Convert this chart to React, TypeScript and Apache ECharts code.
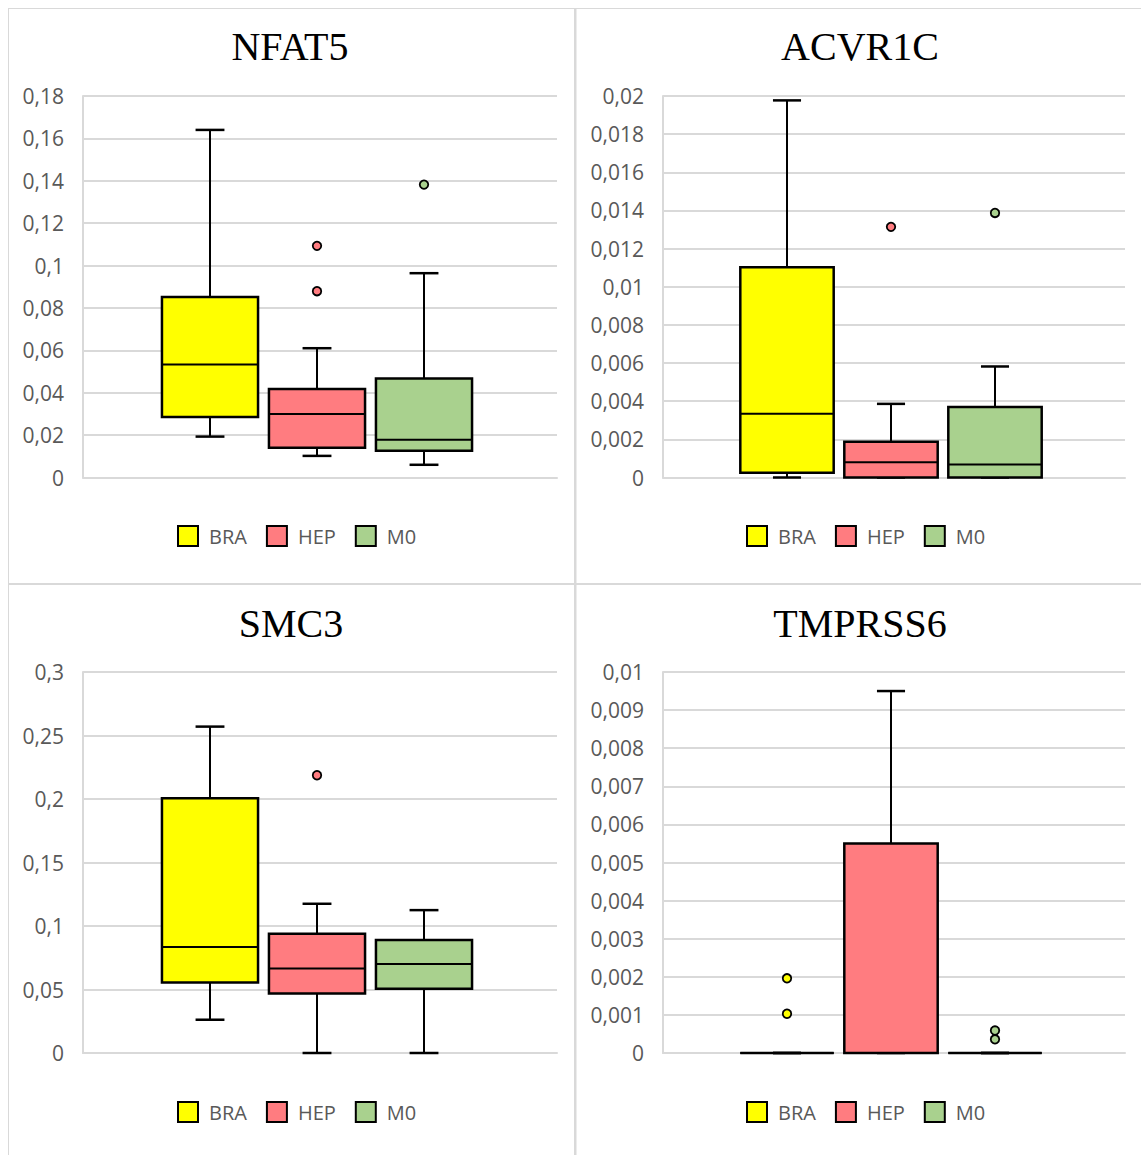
import React, { useEffect, useRef } from 'react';
import * as echarts from 'echarts';

// ---- data ----
const groups = ['BRA', 'HEP', 'M0'];
const groupColors = ['#FFFF00', '#FF7C80', '#A9D18E'];

const titles = ['NFAT5', 'ACVR1C', 'SMC3', 'TMPRSS6'];
const yMaxes = [0.18, 0.02, 0.3, 0.01];
const ySteps = [0.02, 0.002, 0.05, 0.001];

// [min, q1, median, q3, max] for BRA, HEP, M0
const nfat5Box = [
  [0.0193, 0.0285, 0.0533, 0.0852, 0.164],
  [0.0102, 0.014, 0.03, 0.0417, 0.061],
  [0.006, 0.0126, 0.0178, 0.0467, 0.0964],
];
const nfat5Outliers = [[], [0.1093, 0.0879], [0.1382]];

const acvr1cBox = [
  [0, 0.00025, 0.00334, 0.01102, 0.01977],
  [0, 0, 0.0008, 0.00187, 0.00386],
  [0, 0, 0.00068, 0.00369, 0.00582],
];
const acvr1cOutliers = [[], [0.01314], [0.01387]];

const smc3Box = [
  [0.0262, 0.0556, 0.0834, 0.2006, 0.257],
  [0, 0.0469, 0.0666, 0.0939, 0.1175],
  [0, 0.0506, 0.07, 0.0889, 0.1125],
];
const smc3Outliers = [[], [0.2187], []];

const tmprss6Box = [
  [0, 0, 0, 0, 0],
  [0, 0, 0, 0.0055, 0.0095],
  [0, 0, 0, 0, 0],
];
const tmprss6Outliers = [[0.00196, 0.00103], [], [0.00059, 0.00036]];

const boxData = [nfat5Box, acvr1cBox, smc3Box, tmprss6Box];
const outlierData = [nfat5Outliers, acvr1cOutliers, smc3Outliers, tmprss6Outliers];

// ---- layout ----
const panels = [
  { left: 83, top: 96, width: 474, height: 381.5, center: 317, band: 107, titleX: 290, titleY: 46, legendLeft: 177, legendTop: 525 },
  { left: 663, top: 96, width: 462, height: 381.5, center: 891, band: 104, titleX: 860, titleY: 46, legendLeft: 746, legendTop: 525 },
  { left: 83, top: 672, width: 474, height: 381, center: 317, band: 107, titleX: 291, titleY: 623, legendLeft: 177, legendTop: 1101 },
  { left: 663, top: 672, width: 462, height: 381, center: 891, band: 104, titleX: 860, titleY: 623, legendLeft: 746, legendTop: 1101 },
];

const GRID_COLOR = '#d9d9d9';
const TEXT_COLOR = '#595959';
const SANS = "'Open Sans', 'Liberation Sans', sans-serif";

const fmt = (v: number) => String(+Number(v).toFixed(6)).replace('.', ',');

const renderBox = (params: any, api: any) => {
  const xi = api.value(0);
  const vals = [1, 2, 3, 4, 5].map((i) => api.value(i));
  const pts = vals.map((v) => api.coord([xi, v]));
  const band = api.size([1, 0])[0];
  const half = band * 0.449;
  const cap = band * 0.135;
  const cx = pts[0][0];
  const color = api.visual('color');
  const ls = { stroke: '#000', lineWidth: 2 };
  return {
    type: 'group',
    children: [
      { type: 'line', shape: { x1: cx, y1: pts[4][1], x2: cx, y2: pts[3][1] }, style: ls },
      { type: 'line', shape: { x1: cx, y1: pts[1][1], x2: cx, y2: pts[0][1] }, style: ls },
      { type: 'line', shape: { x1: cx - cap, y1: pts[4][1], x2: cx + cap, y2: pts[4][1] }, style: { stroke: '#000', lineWidth: 2.5 } },
      { type: 'line', shape: { x1: cx - cap, y1: pts[0][1], x2: cx + cap, y2: pts[0][1] }, style: { stroke: '#000', lineWidth: 2.5 } },
      {
        type: 'rect',
        shape: { x: cx - half, y: pts[3][1], width: 2 * half, height: pts[1][1] - pts[3][1] },
        style: { fill: color, stroke: '#000', lineWidth: 2.5 },
      },
      { type: 'line', shape: { x1: cx - half, y1: pts[2][1], x2: cx + half, y2: pts[2][1] }, style: ls },
    ],
  };
};

function buildOption() {
  const grid: any[] = [];
  const xAxis: any[] = [];
  const yAxis: any[] = [];
  const series: any[] = [];
  const title: any[] = [];
  const legend: any[] = [];

  panels.forEach((p, pi) => {
    const mainIdx = pi * 2;
    const boxIdx = pi * 2 + 1;
    grid.push({ left: p.left, top: p.top, width: p.width, height: p.height });
    grid.push({ left: p.center - 1.5 * p.band, top: p.top, width: 3 * p.band, height: p.height });

    xAxis.push({
      gridIndex: mainIdx,
      type: 'category',
      data: [''],
      axisLine: { show: true, lineStyle: { color: GRID_COLOR, width: 2 } },
      axisTick: { show: false },
      axisLabel: { show: false },
    });
    xAxis.push({ gridIndex: boxIdx, type: 'category', data: groups, show: false });

    yAxis.push({
      gridIndex: mainIdx,
      type: 'value',
      min: 0,
      max: yMaxes[pi],
      interval: ySteps[pi],
      axisLine: { show: true, lineStyle: { color: GRID_COLOR, width: 2 } },
      axisTick: { show: false },
      splitLine: { show: true, lineStyle: { color: GRID_COLOR, width: 2 } },
      axisLabel: { formatter: fmt, color: TEXT_COLOR, fontSize: 21, fontFamily: SANS, margin: 19 },
    });
    yAxis.push({ gridIndex: boxIdx, type: 'value', min: 0, max: yMaxes[pi], show: false });

    groups.forEach((g, gi) => {
      series.push({
        type: 'custom',
        name: g,
        xAxisIndex: boxIdx,
        yAxisIndex: boxIdx,
        itemStyle: { color: groupColors[gi] },
        encode: { x: 0, y: [1, 2, 3, 4, 5] },
        data: [[g, ...boxData[pi][gi]]],
        renderItem: renderBox,
        z: 2,
      });
    });
    groups.forEach((g, gi) => {
      series.push({
        type: 'scatter',
        name: g,
        xAxisIndex: boxIdx,
        yAxisIndex: boxIdx,
        symbol: 'circle',
        symbolSize: 8.5,
        itemStyle: { color: groupColors[gi], borderColor: '#000', borderWidth: 1.8, opacity: 1 },
        data: outlierData[pi][gi].map((v) => [g, v]),
        z: 3,
      });
    });

    title.push({
      text: titles[pi],
      left: p.titleX,
      top: p.titleY,
      padding: 0,
      textAlign: 'center',
      textVerticalAlign: 'middle',
      textStyle: { fontFamily: "'Liberation Serif', 'Times New Roman', serif", fontSize: 40, fontWeight: 'normal', color: '#000' },
    });

    legend.push({
      data: groups,
      left: p.legendLeft,
      top: p.legendTop,
      padding: 0,
      icon: 'rect',
      itemWidth: 20,
      itemHeight: 20,
      itemGap: 19,
      selectedMode: false,
      itemStyle: { borderColor: '#000', borderWidth: 2 },
      textStyle: { color: TEXT_COLOR, fontSize: 20, fontFamily: SANS, padding: [0, 0, 0, 6] },
    });
  });

  return {
    animation: false,
    backgroundColor: '#ffffff',
    title,
    legend,
    grid,
    xAxis,
    yAxis,
    series,
    graphic: [
      { type: 'line', shape: { x1: 8.5, y1: 8, x2: 8.5, y2: 1155 }, style: { stroke: GRID_COLOR, lineWidth: 1 }, silent: true },
      { type: 'line', shape: { x1: 8, y1: 8.5, x2: 1141, y2: 8.5 }, style: { stroke: GRID_COLOR, lineWidth: 1 }, silent: true },
      { type: 'rect', shape: { x: 574, y: 8, width: 2.5, height: 1147 }, style: { fill: GRID_COLOR }, silent: true },
      { type: 'rect', shape: { x: 8, y: 583, width: 1133, height: 2 }, style: { fill: GRID_COLOR }, silent: true },
    ],
  };
}

export default function App() {
  const ref = useRef<HTMLDivElement>(null);
  useEffect(() => {
    document.body.style.margin = '0';
    if (!ref.current) return;
    const chart = echarts.init(ref.current, undefined, { renderer: 'svg' });
    chart.setOption(buildOption() as any);
    return () => chart.dispose();
  }, []);
  return <div ref={ref} style={{ width: 1141, height: 1155 }} />;
}
